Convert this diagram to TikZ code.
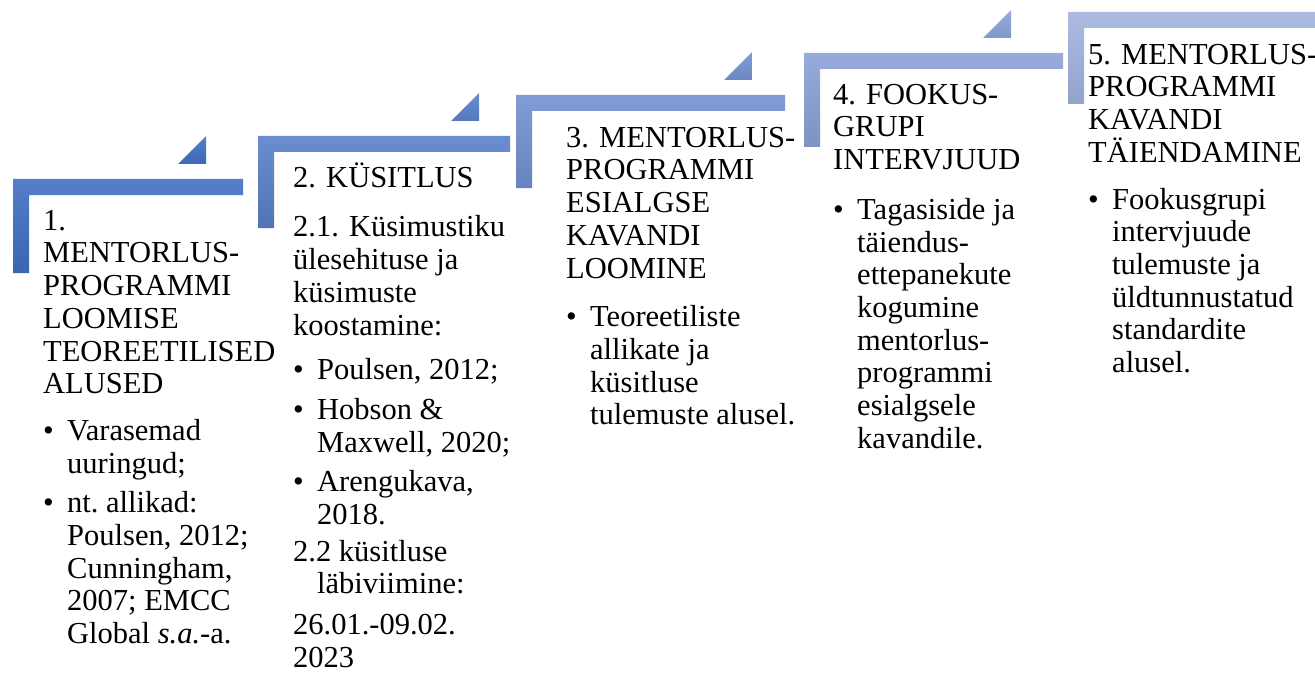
\documentclass[tikz,border=0pt]{standalone}
\usepackage{fontspec}
\setmainfont{Liberation Serif}
\definecolor{stepA}{RGB}{66,112,196}
\definecolor{stepB}{RGB}{164,180,224}
\newcommand\blt{\makebox[24pt][l]{\textbullet}}
\newcommand\subind{\hspace*{24pt}}
\newcommand\firstline{\rule{0pt}{28pt}}
\begin{document}
\begin{tikzpicture}[x=1pt,y=-1pt,
  txt/.style={anchor=north west,inner sep=0pt,align=left,font=\fontsize{30.5}{32.7}\selectfont}]
\useasboundingbox (0,0) rectangle (1315,674);
% steps: number/left/top/right/bottom/triangle right
\foreach \n/\l/\t/\r/\b/\tx in {1/13/179/243/273/206,2/258/136/510/228/479,
    3/516/95/785/188/752,4/804/53/1063/147/1011,5/1068/12/1315/104/0}{
    \pgfmathtruncatemacro\p{(\n-1)*25}
    \colorlet{stepc}{stepB!\p!stepA}
    \shade[top color=stepc!90!white,bottom color=stepc!90!black]
        (\l,\t) -- (\r,\t) -- (\r,{\t+16}) -- ({\l+16},{\t+16}) -- ({\l+16},\b) -- (\l,\b) -- cycle;
    \ifnum\tx>0
    \shade[top color=stepc!90!white,bottom color=stepc!93!black]
        ({\tx-28},{\t-15}) -- (\tx,{\t-15}) -- (\tx,{\t-43}) -- cycle;
    \fi
}
\node[txt] (t1) at (43,{230-28}) {\firstline 1.\\MENTORLUS-\\PROGRAMMI\\LOOMISE\\TEOREETILISED\\ALUSED\\[14pt]
  \blt Varasemad\\\subind uuringud;\\[7pt]
  \blt nt.\ allikad:\\\subind Poulsen, 2012;\\\subind Cunningham,\\\subind 2007; EMCC\\\subind Global \textit{s.a.}-a.};
\node[txt] (t2) at (293,{187-28}) {\firstline 2. KÜSITLUS\\[17pt]
  2.1. Küsimustiku\\ülesehituse ja\\küsimuste\\koostamine:\\[12pt]
  \blt Poulsen, 2012;\\[7pt]
  \blt Hobson \&\\\subind Maxwell, 2020;\\[7pt]
  \blt Arengukava,\\\subind 2018.\\[4pt]
  2.2 küsitluse\\\subind läbiviimine:\\[8pt]
  26.01.-09.02.\\[0pt]
  2023};
\node[txt] (t3) at (566,{147-28}) {\firstline 3. MENTORLUS-\\PROGRAMMI\\ESIALGSE\\KAVANDI\\LOOMINE\\[16pt]
  \blt Teoreetiliste\\\subind allikate ja\\\subind küsitluse\\\subind tulemuste alusel.};
\node[txt] (t4) at (833,{104-28}) {\firstline 4. FOOKUS-\\GRUPI\\INTERVJUUD\\[17pt]
  \blt Tagasiside ja\\\subind täiendus-\\\subind ettepanekute\\\subind kogumine\\\subind mentorlus-\\\subind programmi\\\subind esialgsele\\\subind kavandile.};
\node[txt] (t5) at (1088,{64-28}) {\firstline 5. MENTORLUS-\\PROGRAMMI\\KAVANDI\\TÄIENDAMINE\\[14pt]
  \blt Fookusgrupi\\\subind intervjuude\\\subind tulemuste ja\\\subind üldtunnustatud\\\subind standardite\\\subind alusel.};
\end{tikzpicture}
\end{document}
